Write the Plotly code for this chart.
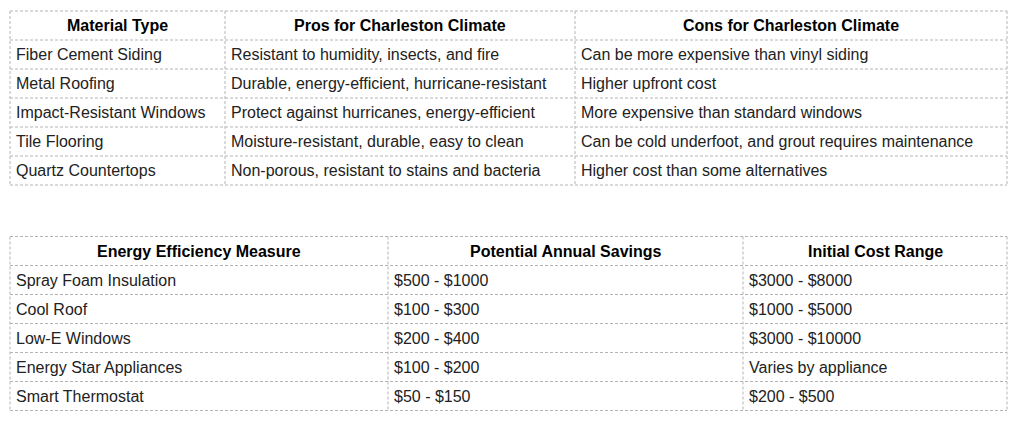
import plotly.graph_objects as go

# Table 1: building materials
materials = ["Fiber Cement Siding", "Metal Roofing", "Impact-Resistant Windows",
             "Tile Flooring", "Quartz Countertops"]
pros = ["Resistant to humidity, insects, and fire",
        "Durable, energy-efficient, hurricane-resistant",
        "Protect against hurricanes, energy-efficient",
        "Moisture-resistant, durable, easy to clean",
        "Non-porous, resistant to stains and bacteria"]
cons = ["Can be more expensive than vinyl siding",
        "Higher upfront cost",
        "More expensive than standard windows",
        "Can be cold underfoot, and grout requires maintenance",
        "Higher cost than some alternatives"]
headers1 = ["Material Type", "Pros for Charleston Climate", "Cons for Charleston Climate"]

# Table 2: energy efficiency
measures = ["Spray Foam Insulation", "Cool Roof", "Low-E Windows",
            "Energy Star Appliances", "Smart Thermostat"]
savings = ["$500 - $1000", "$100 - $300", "$200 - $400", "$100 - $200", "$50 - $150"]
costs = ["$3000 - $8000", "$1000 - $5000", "$3000 - $10000",
         "Varies by appliance", "$200 - $500"]
headers2 = ["Energy Efficiency Measure", "Potential Annual Savings", "Initial Cost Range"]

# layout geometry (page pixels); the page body has an 8px margin
W, H = 1021, 423
BODY = 8
ROW_H = 29
PAD = 4
FONT = "Liberation Sans, Arial, sans-serif"
BORDER = dict(color="#b4b4b4", width=1, dash="3px,2px")

tables = [
    dict(top=11, edges=[10, 225, 575, 1007], headers=headers1, cols=[materials, pros, cons]),
    dict(top=236.5, edges=[10, 388, 743, 1007], headers=headers2, cols=[measures, savings, costs]),
]

fig = go.Figure()
shapes = []
annotations = []

for t in tables:
    edges = t["edges"]
    n_rows = len(t["cols"][0]) + 1
    top = t["top"]
    bottom = top + n_rows * ROW_H
    # horizontal lines
    for r in range(n_rows + 1):
        y = top + r * ROW_H
        shapes.append(dict(type="line", xref="x", yref="y", x0=edges[0], x1=edges[-1],
                           y0=y, y1=y, line=BORDER))
    # vertical lines
    for x in edges:
        shapes.append(dict(type="line", xref="x", yref="y", x0=x, x1=x,
                           y0=top, y1=bottom, line=BORDER))
    # header
    for c, h in enumerate(t["headers"]):
        annotations.append(dict(x=(edges[c] + edges[c + 1]) / 2, y=top + ROW_H / 2,
                                text="<b>" + h + "</b>", showarrow=False,
                                xanchor="center", yanchor="middle",
                                font=dict(family=FONT, size=16, color="#000000")))
    # body
    for c, col in enumerate(t["cols"]):
        for r, val in enumerate(col):
            annotations.append(dict(x=edges[c] + PAD, y=top + (r + 1.5) * ROW_H,
                                    text=val, showarrow=False,
                                    xanchor="left", yanchor="middle",
                                    font=dict(family=FONT, size=16, color="#222222")))

fig.update_layout(
    width=W - BODY, height=H - BODY,
    margin=dict(l=0, r=0, t=0, b=0),
    paper_bgcolor="white", plot_bgcolor="white",
    xaxis=dict(range=[BODY, W], visible=False, fixedrange=True),
    yaxis=dict(range=[H, BODY], visible=False, fixedrange=True),
    shapes=shapes, annotations=annotations,
    showlegend=False,
)

fig.write_html("out.html")
